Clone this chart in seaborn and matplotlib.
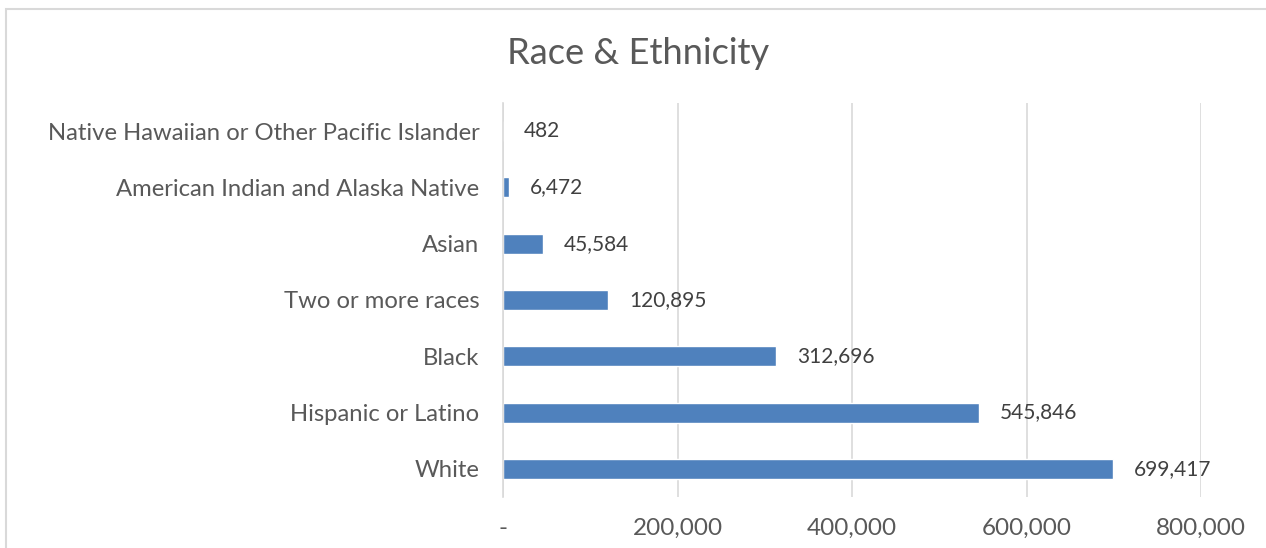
import matplotlib
matplotlib.use("Agg")
import matplotlib.pyplot as plt
import matplotlib.patches as patches
from matplotlib.ticker import FuncFormatter
import pandas as pd
import seaborn as sns

# ------------------------------------------ #
#                    data                    #
# ------------------------------------------ #

groups = [
    "Native Hawaiian or Other Pacific Islander",
    "American Indian and Alaska Native",
    "Asian",
    "Two or more races",
    "Black",
    "Hispanic or Latino",
    "White",
]
people = [482, 6472, 45584, 120895, 312696, 545846, 699417]

x_ticks = [0, 200000, 400000, 600000, 800000]

data = pd.DataFrame({"group": groups, "people": people})

sns.set_style("white")
plt.rcParams["font.family"] = ["Lato", "DejaVu Sans"]

text_grey = "#595959"
grid_grey = "#d9d9d9"
bar_blue = "#4f81bd"

fig = plt.figure(figsize=(12.66, 5.48), dpi=100)
ax = fig.add_axes([503 / 1266, 1 - 497 / 548, (1201 - 503) / 1266, (497 - 103) / 548])

sns.barplot(data=data, x="people", y="group", orient="h", color=bar_blue,
            width=0.355, saturation=1, ax=ax)

ax.set_xlim(0, 800000)
ax.set_xticks(x_ticks)
ax.xaxis.set_major_formatter(FuncFormatter(lambda v, p: "-" if v == 0 else f"{v:,.0f}"))
ax.grid(axis="x", color=grid_grey, lw=1.2)
ax.set_axisbelow(True)
ax.set_xlabel("")
ax.set_ylabel("")

for side in ["top", "right", "bottom"]:
    ax.spines[side].set_visible(False)
ax.spines["left"].set_color(grid_grey)
ax.spines["left"].set_linewidth(1.2)

ax.tick_params(axis="x", length=0, pad=15, labelsize=17.5, labelcolor=text_grey)
ax.tick_params(axis="y", length=0, pad=17, labelsize=17.2, labelcolor=text_grey)

# value labels next to the bars
for i, v in enumerate(people):
    ax.annotate(f"{v:,}", (v, i), xytext=(15, 0), textcoords="offset points",
                va="center", ha="left", fontsize=15, color="#404040")

fig.text(638 / 1266, 1 - 53 / 548, "Race & Ethnicity", ha="center", va="center",
         fontsize=26.1, color=text_grey)

# excel style chart frame
frame = patches.Rectangle((6 / 1266, -0.1), 2, 1 - 9 / 548 + 0.1,
                          transform=fig.transFigure, fill=False,
                          edgecolor=grid_grey, lw=1.5)
fig.patches.append(frame)

fig.savefig("out.png", dpi=100)
